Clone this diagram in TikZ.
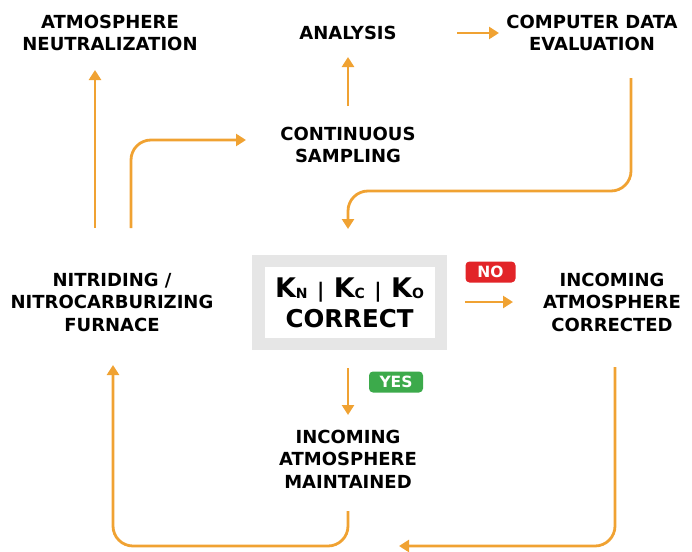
\documentclass[tikz,border=0pt]{standalone}
\usepackage{fontspec}
\setmainfont{DejaVu Sans}
\usetikzlibrary{arrows.meta}
\definecolor{orng}{RGB}{240,162,50}
\definecolor{boxgray}{RGB}{230,230,230}
\definecolor{nored}{RGB}{226,36,40}
\definecolor{yesgreen}{RGB}{60,170,75}
\begin{document}
\begin{tikzpicture}[x=1pt,y=-1pt,
  lbl/.style={font=\bfseries\fontsize{18}{22.5}\selectfont, align=center, text=black, inner sep=0pt},
  con/.style={draw=orng, line width=2.8pt, -{Triangle[length=10pt,width=12pt]}, rounded corners=20pt},
  badge/.style={text=white, font=\bfseries\fontsize{15.5}{15.5}\selectfont, rounded corners=4pt, inner sep=0pt, minimum height=21pt}]
\path[use as bounding box] (0,0) rectangle (692,551);
% text nodes
\node[lbl] (neut) at (110,33) {ATMOSPHERE\\NEUTRALIZATION};
\node[lbl] (anal) at (348,33) {ANALYSIS};
\node[lbl] (comp) at (592,33) {COMPUTER DATA\\EVALUATION};
\node[lbl] (samp) at (348,145) {CONTINUOUS\\SAMPLING};
\node[lbl] (furn) at (112,302) {NITRIDING /\\NITROCARBURIZING\\FURNACE};
\node[lbl] (corr) at (612,302) {INCOMING\\ATMOSPHERE\\CORRECTED};
\node[lbl] (main) at (348,459) {INCOMING\\ATMOSPHERE\\MAINTAINED};
% check box
\node[fill=boxgray, minimum width=195pt, minimum height=95pt, inner sep=0pt] (box) at (349.5,302.5) {};
\node[fill=white, minimum width=170pt, minimum height=71pt, inner sep=0pt, align=center,
      font=\bfseries\fontsize{24.5}{30}\selectfont] (check) at (349.5,302.5)
  {\fontsize{27}{30}\selectfont K\raisebox{-1.5pt}{\fontsize{14}{14}\selectfont N} {\fontsize{20}{20}\selectfont |} K\raisebox{-1.5pt}{\fontsize{14}{14}\selectfont C} {\fontsize{20}{20}\selectfont |} K\raisebox{-1.5pt}{\fontsize{14}{14}\selectfont O}\\CORRECT};
% badges
\node[badge, fill=nored, minimum width=50pt] (no) at (490.5,272) {NO};
\node[badge, fill=yesgreen, minimum width=54pt] (yes) at (396,382) {YES};
% connector end points
\coordinate (a1s) at (95,228);  \coordinate (a1e) at (95,70);
\coordinate (a2s) at (131,228); \coordinate (a2e) at (246,140);
\coordinate (a3s) at (348,106); \coordinate (a3e) at (348,57);
\coordinate (a4s) at (457,33);  \coordinate (a4e) at (499,33);
\coordinate (a5s) at (631,78);  \coordinate (a5m) at (631,191); \coordinate (a5e) at (348,229);
\coordinate (a6s) at (465,302); \coordinate (a6e) at (513,302);
\coordinate (a7s) at (348,368); \coordinate (a7e) at (348,415);
\coordinate (a8s) at (348,511); \coordinate (a8e) at (113,365);
\coordinate (a9s) at (615,367); \coordinate (a9e) at (399,546);
% connectors
\draw[con] (a1s) -- (a1e);
\draw[con] (a2s) |- (a2e);
\draw[con] (a3s) -- (a3e);
\draw[con] (a4s) -- (a4e);
\draw[con] (a5s) -- (a5m) -| (a5e);
\draw[con] (a6s) -- (a6e);
\draw[con] (a7s) -- (a7e);
\draw[con] (a8s) |- (210,546) -| (a8e);
\draw[con] (a9s) |- (a9e);
\end{tikzpicture}
\end{document}
